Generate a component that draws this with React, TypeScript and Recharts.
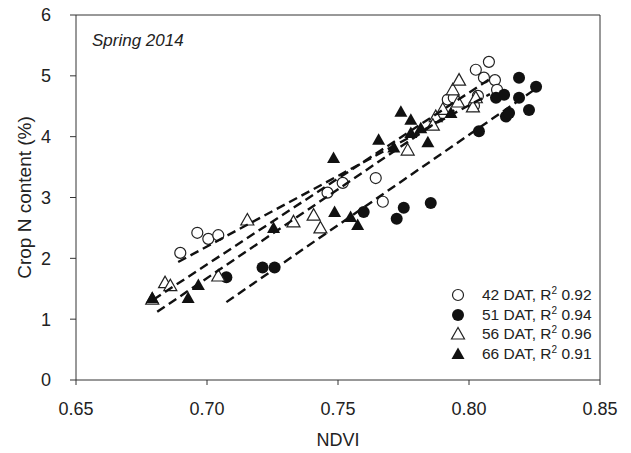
import React from 'react';
import {
  ScatterChart,
  Scatter,
  XAxis,
  YAxis,
  ReferenceLine,
} from 'recharts';

// NDVI vs crop N
const dat42: [number, number][] = [
  [0.6898, 2.09], [0.6963, 2.42], [0.7005, 2.32], [0.7043, 2.38],
  [0.746, 3.08], [0.7518, 3.24], [0.7644, 3.32], [0.7671, 2.93],
  [0.7919, 4.61], [0.7942, 4.64], [0.8019, 4.51], [0.8034, 4.67],
  [0.8026, 5.1], [0.8057, 4.97], [0.8076, 5.23], [0.8099, 4.93], [0.8107, 4.77],
];
const dat51: [number, number][] = [
  [0.7074, 1.69], [0.7212, 1.85], [0.7258, 1.85], [0.7598, 2.76],
  [0.7724, 2.65], [0.7751, 2.83], [0.7854, 2.91], [0.8038, 4.09],
  [0.8141, 4.33], [0.8153, 4.39], [0.8103, 4.64], [0.8134, 4.69],
  [0.8191, 4.64], [0.8229, 4.44], [0.8191, 4.97], [0.8256, 4.82],
];
const dat56: [number, number][] = [
  [0.6791, 1.33], [0.684, 1.6], [0.686, 1.55], [0.7043, 1.71],
  [0.7154, 2.63], [0.733, 2.6], [0.7407, 2.71], [0.7433, 2.5],
  [0.7766, 3.78], [0.7873, 4.33], [0.7862, 4.19], [0.7938, 4.77],
  [0.7958, 4.57], [0.7962, 4.93], [0.8015, 4.49], [0.8026, 4.64], [0.79, 4.45],
];
const dat66: [number, number][] = [
  [0.6791, 1.35], [0.6928, 1.35], [0.6967, 1.56], [0.7254, 2.5],
  [0.7483, 3.65], [0.7487, 2.76], [0.7548, 2.68], [0.7575, 2.55],
  [0.7655, 3.95], [0.7713, 3.82], [0.774, 4.41], [0.7778, 4.06],
  [0.7778, 4.28], [0.7843, 3.91], [0.7816, 4.14], [0.7931, 4.39],
];

// regression line end points
const fit42: [number, number][] = [[0.689, 1.94], [0.808, 4.7]];
const fit51: [number, number][] = [[0.7074, 1.28], [0.8249, 4.77]];
const fit56: [number, number][] = [[0.6795, 1.32], [0.808, 4.95]];
const fit66: [number, number][] = [[0.681, 1.12], [0.795, 4.45]];

const xTicks = [0.65, 0.7, 0.75, 0.8, 0.85];
const yTicks = [0, 1, 2, 3, 4, 5, 6];

const legendRows = [
  { label: '42 DAT', r2: '0.92', kind: 'openCircle' },
  { label: '51 DAT', r2: '0.94', kind: 'circle' },
  { label: '56 DAT', r2: '0.96', kind: 'openTriangle' },
  { label: '66 DAT', r2: '0.91', kind: 'triangle' },
];

const toPts = (arr: [number, number][]) => arr.map(([x, y]) => ({ x, y }));

const FONT = '"Liberation Sans", Arial, sans-serif';
const INK = '#222';

const Marker = ({ kind, cx, cy }: { kind: string; cx: number; cy: number }) => {
  if (kind === 'openCircle')
    return <circle cx={cx} cy={cy} r={5.5} fill="#fff" stroke={INK} strokeWidth={1.2} />;
  if (kind === 'circle') return <circle cx={cx} cy={cy} r={6} fill="#111" />;
  const pts = `${cx},${cy - 6.5} ${cx - 6.5},${cy + 5} ${cx + 6.5},${cy + 5}`;
  if (kind === 'openTriangle')
    return <polygon points={pts} fill="#fff" stroke={INK} strokeWidth={1.2} />;
  return <polygon points={pts} fill="#111" />;
};

const shapeFor = (kind: string) => (p: any) => <Marker kind={kind} cx={p.cx} cy={p.cy} />;
const noShape = () => <g />;

const dashed = { stroke: '#111', strokeWidth: 2.4, strokeDasharray: '9 5' };

export default function App() {
  return (
    <div style={{ position: 'absolute', left: 0, top: 0, width: 631, height: 453, background: '#fff', fontFamily: FONT }}>
      <ScatterChart width={631} height={453} margin={{ top: 15, right: 31, bottom: 0, left: 0 }}>
        <XAxis
          type="number"
          dataKey="x"
          domain={[0.65, 0.85]}
          ticks={xTicks}
          tickFormatter={(v: number) => v.toFixed(2)}
          height={73}
          stroke="#333"
          tickSize={5}
          tickMargin={17}
          tick={{ fontSize: 18, fill: INK, fontFamily: FONT }}
          allowDataOverflow
          label={{ value: 'NDVI', position: 'insideBottom', offset: 7, fontSize: 18, fill: INK, fontFamily: FONT }}
        />
        <YAxis
          type="number"
          dataKey="y"
          domain={[0, 6]}
          ticks={yTicks}
          width={76}
          stroke="#333"
          tickSize={6}
          tickMargin={19}
          tick={{ fontSize: 18, fill: INK, fontFamily: FONT }}
          label={{
            value: 'Crop N content (%)',
            angle: -90,
            position: 'insideLeft',
            offset: 24,
            fontSize: 19,
            fill: INK,
            fontFamily: FONT,
            style: { textAnchor: 'middle' },
          }}
        />
        <ReferenceLine y={6} stroke="#333" />
        <ReferenceLine x={0.85} stroke="#333" />
        <Scatter data={toPts(dat42)} shape={shapeFor('openCircle')} isAnimationActive={false} />
        <Scatter data={toPts(dat51)} shape={shapeFor('circle')} isAnimationActive={false} />
        <Scatter data={toPts(dat56)} shape={shapeFor('openTriangle')} isAnimationActive={false} />
        <Scatter data={toPts(dat66)} shape={shapeFor('triangle')} isAnimationActive={false} />
        <Scatter data={toPts(fit42)} line={dashed} shape={noShape} isAnimationActive={false} />
        <Scatter data={toPts(fit51)} line={dashed} shape={noShape} isAnimationActive={false} />
        <Scatter data={toPts(fit56)} line={dashed} shape={noShape} isAnimationActive={false} />
        <Scatter data={toPts(fit66)} line={dashed} shape={noShape} isAnimationActive={false} />
      </ScatterChart>
      <div style={{ position: 'absolute', left: 92, top: 31, fontSize: 17, fontStyle: 'italic', color: INK }}>
        Spring 2014
      </div>
      <div style={{ position: 'absolute', left: 448, top: 285, fontSize: 15.5, color: INK }}>
        {legendRows.map(r => (
          <div key={r.label} style={{ display: 'flex', alignItems: 'center', height: 19.7 }}>
            <svg width={20} height={18} style={{ marginRight: 14 }}>
              <Marker kind={r.kind} cx={10} cy={9} />
            </svg>
            <span>
              {r.label}, R<sup style={{ fontSize: 10, verticalAlign: 'super', lineHeight: 0 }}>2</sup> {r.r2}
            </span>
          </div>
        ))}
      </div>
    </div>
  );
}
